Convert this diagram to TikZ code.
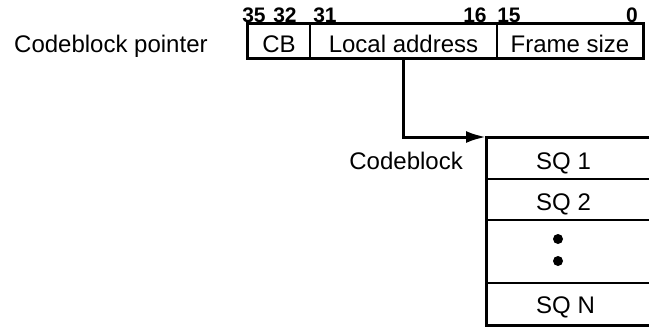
\documentclass[tikz,border=0pt]{standalone}
\usepackage{fontspec}
\setmainfont{Liberation Sans}
\usetikzlibrary{arrows.meta}
\begin{document}
\begin{tikzpicture}[x=1pt,y=-1pt,
    lbl/.style={font=\fontsize{24}{28}\selectfont,inner sep=0pt},
    bit/.style={font=\bfseries\fontsize{21}{24}\selectfont,anchor=base,inner sep=0pt},
    field/.style={draw,line width=1.5pt,minimum height=34pt,inner sep=0pt},
    row/.style={draw,line width=2pt,minimum width=168pt,inner sep=0pt}]
    \useasboundingbox (0,0) rectangle (649,327);

    % the pointer word
    \node[lbl,anchor=base west] (ptr) at (14,52) {Codeblock pointer};
    \node[field,minimum width=62pt] (cb) at (279,41) {};
    \node[field,minimum width=187pt] (la) at (403.5,41) {};
    \node[field,minimum width=146pt] (fs) at (570,41) {};
    \draw[line width=3pt] (cb.north west) rectangle (fs.south east);
    \node[lbl,anchor=base] (tcb) at (cb.center |- 0,52) {CB};
    \node[lbl,anchor=base] (tla) at (la.center |- 0,52) {Local address};
    \node[lbl,anchor=base] (tfs) at (fs.center |- 0,52) {Frame size};

    \node[bit] (b35) at (254,22) {35};
    \node[bit] (b32) at (285,22) {32};
    \node[bit] (b31) at (325,22) {31};
    \node[bit] (b16) at (475,22) {16};
    \node[bit] (b15) at (509,22) {15};
    \node[bit] (b0) at (632,22) {0};

    % the codeblock
    \node[row,minimum height=41pt] (cb1) at (571,158.5) {};
    \node[row,minimum height=41pt] (cb2) at (571,199.5) {};
    \node[row,minimum height=63pt] (cb3) at (571,251.5) {};
    \node[row,minimum height=42pt] (cb4) at (571,304) {};
    \draw[line width=3pt] (cb1.north west) rectangle (cb4.south east);

    \node[lbl,anchor=base west] (sq1) at (536,169) {SQ 1};
    \node[lbl,anchor=base west] (sq2) at (536,210) {SQ 2};
    \node[lbl,anchor=base west] (sqn) at (536,313) {SQ N};
    \fill (558,239) circle (5);
    \fill (558,261) circle (5);
    \node[lbl,anchor=base east] (cbl) at (463,169) {Codeblock};

    \draw[line width=3pt,-{Latex[length=20pt,width=12pt]}] (la.south) |- (cb1.north west);
\end{tikzpicture}
\end{document}
